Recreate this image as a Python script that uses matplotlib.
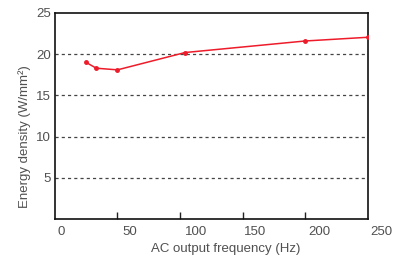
import matplotlib
matplotlib.use("Agg")
import matplotlib.pyplot as plt

# data
freq = [25, 33, 50, 104, 200, 250]
energy = [19.0, 18.3, 18.1, 20.2, 21.6, 22.05]

# x tick labels are drawn slightly right of the tick marks in the original
xlabels = ["0", "50", "100", "150", "200", "250"]
xlabel_pos = [5.4, 60, 113, 160, 211, 261]
ygrid = [5, 10, 15, 20]

plt.rcParams['font.family'] = ['Liberation Sans', 'DejaVu Sans']
txt = '#505050'

fig = plt.figure(figsize=(3.98, 2.59), dpi=100)
ax = fig.add_axes([0.138, 0.154, 0.786, 0.796])

for g in ygrid:
    ax.axhline(g, color='#444444', linestyle=(0, (2.5, 2.5)), linewidth=0.9, zorder=1)

ax.plot(freq, energy, color='#ee1c2a', linewidth=1.1, marker='o', markersize=2.5,
        zorder=3)

ax.set_xlim(0, 250)
ax.set_ylim(0, 25)

ax.set_xticks([50, 100, 150, 200])
ax.set_xticklabels([])
ax.tick_params(axis='x', direction='in', length=5, width=1, color='#222222')
for lab, pos in zip(xlabels, xlabel_pos):
    ax.text(pos, -0.035, lab, transform=ax.get_xaxis_transform(), ha='center', va='top',
            fontsize=9.5, color=txt, clip_on=False)

ax.set_yticks([5, 10, 15, 20, 25])
ax.set_yticklabels(["5", "10", "15", "20", "25"], fontsize=9.5, color=txt)
ax.tick_params(axis='y', length=0, pad=3)

for s in ax.spines.values():
    s.set_linewidth(1.2)
    s.set_color('#111111')

ax.set_xlabel("AC output frequency (Hz)", fontsize=9.5, color=txt)
ax.xaxis.set_label_coords(0.545, -0.118)
ax.set_ylabel("Energy density (W/mm²)", fontsize=9.5, color=txt)
ax.yaxis.set_label_coords(-0.077, 0.40)

fig.savefig("out.png", dpi=100)
